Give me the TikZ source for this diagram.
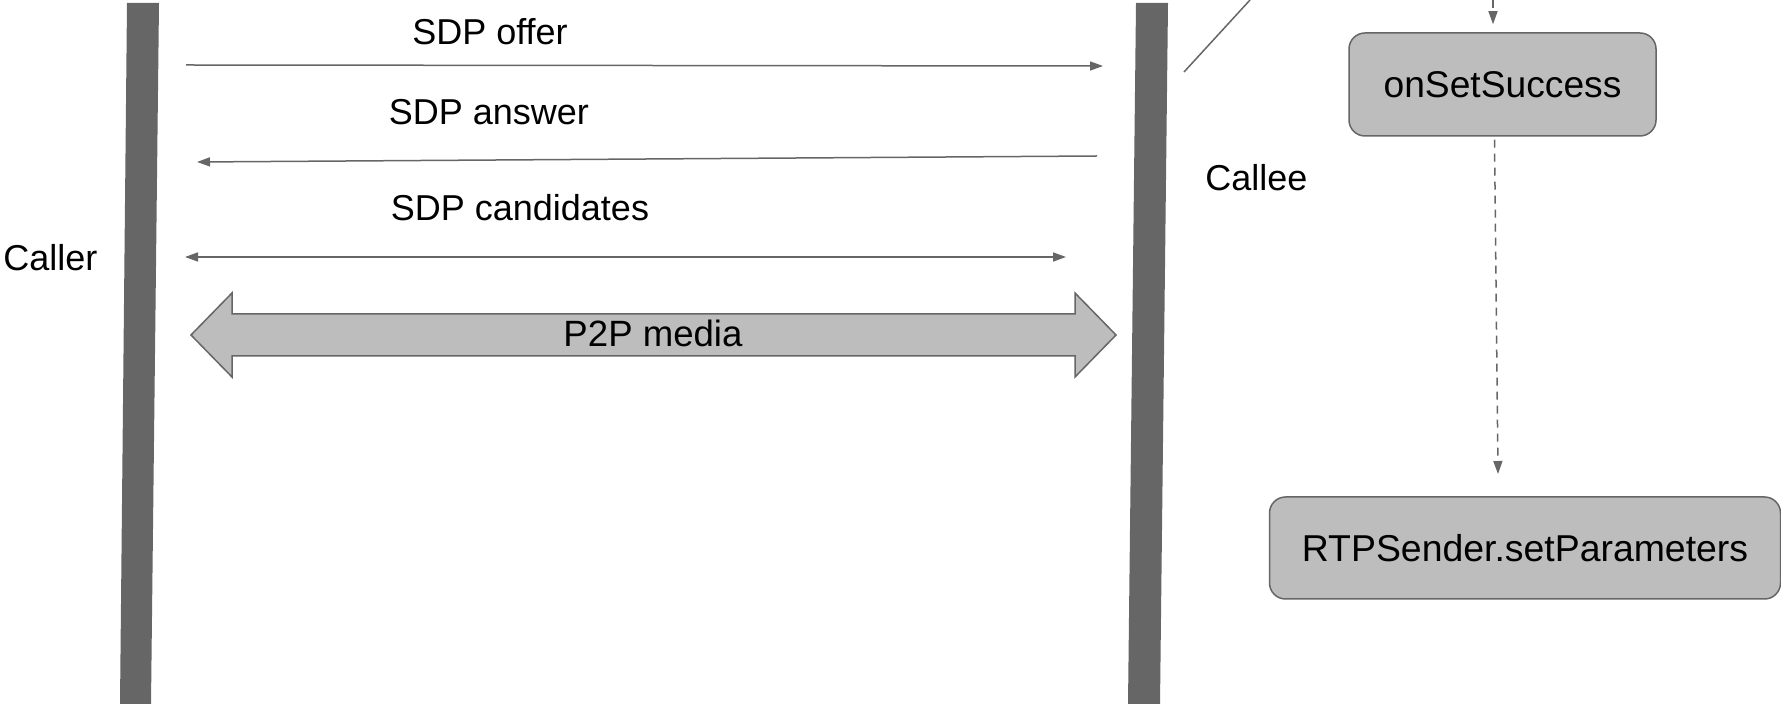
\documentclass[tikz,border=0pt]{standalone}
\usepackage{fontspec}
\setmainfont{Liberation Sans}
\usetikzlibrary{positioning}
\usetikzlibrary{arrows.meta}

\definecolor{lifegray}{HTML}{666666}
\definecolor{boxgray}{HTML}{BDBDBD}

\begin{document}
\begin{tikzpicture}[
		x=0.5pt,y=-0.5pt,
		>={Triangle[length=6.5pt,width=4.5pt]},
		lifeline/.style={fill=lifegray},
		msg/.style={draw=lifegray, line width=0.75pt, ->},
		both/.style={draw=lifegray, line width=0.75pt, <->},
		flow/.style={draw=lifegray, line width=0.75pt, dash pattern=on 4pt off 3pt, ->},
		lbl/.style={font=\fontsize{18}{22}\selectfont, anchor=base, inner sep=0},
		side/.style={font=\fontsize{18}{22}\selectfont, anchor=base west, inner sep=0},
		callbox/.style={draw=lifegray, fill=boxgray, line width=0.75pt, rounded corners=8pt, inner sep=0}
	]
		\useasboundingbox (0,0) rectangle (1781,704);

		% lifelines
		\fill[lifeline] (127,3) -- (159,3) -- (151,704) -- (120,704) -- cycle;
		\fill[lifeline] (1136,3) -- (1168,3) -- (1160,704) -- (1128,704) -- cycle;

		\path
			(3,271) node[side](caller){Caller}
			(1205,191) node[side](callee){Callee}
			(490,45) node[lbl](offer){SDP offer}
			(489,125) node[lbl](answer){SDP answer}
			(520,221) node[lbl](cand){SDP candidates}
		;

		% message ends
		\coordinate (offerA) at (186,65);
		\coordinate (offerB) at (1103,66);
		\coordinate (answerA) at (1097,156);
		\coordinate (answerB) at (197,162);
		\coordinate (candA) at (185,257);
		\coordinate (candB) at (1066,257);
		\draw[msg] (offerA) -- (offerB);
		\draw[msg] (answerA) -- (answerB);
		\draw[both] (candA) -- (candB);

		% media arrow
		\draw[draw=lifegray, fill=boxgray, line width=0.75pt]
			(191,335) -- (232,293) -- (232,314) -- (1075,314) -- (1075,293)
			-- (1116,335) -- (1075,377) -- (1075,356) -- (232,356) -- (232,377) -- cycle;
		\node[lbl, font=\fontsize{18.3}{22}\selectfont] (media) at (653,347) {P2P media};

		% callee side
		\coordinate (slantA) at (1184,72);
		\coordinate (slantB) at (1250,0);
		\draw[draw=lifegray, line width=0.75pt] (slantA) -- (slantB);

		\node[callbox, minimum width=153.5pt, minimum height=51.5pt, font=\fontsize{18.6}{22}\selectfont]
			(success) at (1502.5,84.5) {onSetSuccess};
		\node[callbox, minimum width=255.5pt, minimum height=51pt, font=\fontsize{18.7}{22}\selectfont]
			(sender) at (1525,548) {RTPSender.setParameters};

		\coordinate (feed) at (1493,0);
		\coordinate (flowend) at (1498,474);
		\draw[flow, shorten >=4pt] (feed) -- (feed |- success.north);
		\draw[flow] (success.south) ++(-8,3) -- (flowend);
		% \draw[flow] (success) -- (sender);
	\end{tikzpicture}
\end{document}
